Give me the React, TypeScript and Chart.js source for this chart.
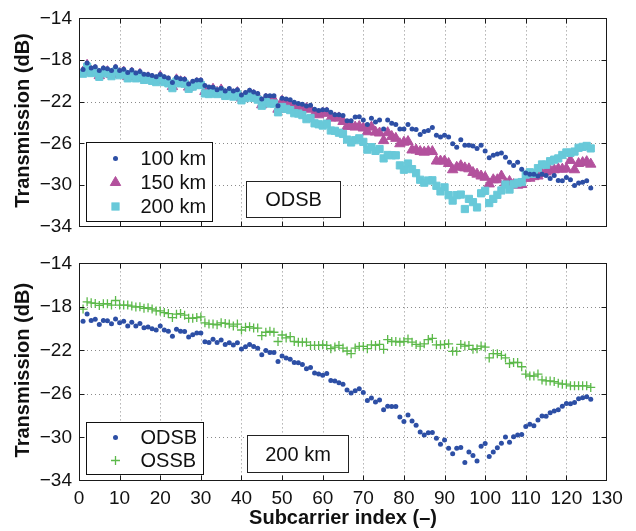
import React, { useEffect, useRef } from 'react';
import { Chart, registerables } from 'chart.js';

Chart.register(...registerables);

// ---------------- data ----------------
const subcarrierIndex: number[] = Array.from({ length: 126 }, (_, i) => i + 1);

const odsb100km = [
  -18.90, -18.28, -18.77, -18.65, -19.00, -18.77, -18.83, -19.00, -18.65, -19.00,
  -18.89, -19.19, -18.95, -19.25, -19.10, -19.37, -19.40, -19.49, -19.61, -19.40,
  -19.61, -19.73, -20.15, -19.67, -19.79, -19.85, -20.30, -20.03, -19.91, -19.91,
  -20.45, -20.58, -20.61, -20.85, -20.70, -20.97, -20.73, -20.97, -20.85, -21.36,
  -21.12, -20.91, -21.06, -21.21, -21.75, -21.42, -21.42, -21.42, -22.40, -21.66,
  -21.75, -21.81, -22.05, -22.17, -22.24, -22.42, -22.35, -22.72, -22.84, -22.78,
  -22.78, -23.02, -23.26, -23.26, -23.32, -23.83, -23.83, -23.47, -23.44, -23.77,
  -24.20, -23.59, -23.95, -23.77, -24.62, -23.77, -24.08, -24.20, -24.62, -24.62,
  -24.20, -24.62, -24.68, -25.16, -24.86, -24.77, -24.47, -25.22, -25.40, -25.22,
  -25.40, -26.04, -26.37, -25.65, -26.19, -26.19, -26.25, -26.49, -26.19, -26.73,
  -27.39, -27.15, -27.03, -26.94, -27.33, -27.82, -28.12, -27.82, -28.48, -28.84,
  -28.96, -28.96, -29.14, -28.96, -29.08, -29.38, -29.08, -29.57, -29.60, -29.29,
  -29.50, -30.05, -29.81, -29.75, -29.60, -30.29,
];

const odsb150km = [
  -19.15, -18.50, -19.10, -18.98, -19.50, -19.10, -19.12, -19.40, -18.95, -19.30,
  -19.15, -19.60, -19.25, -19.60, -19.37, -19.75, -19.70, -19.85, -19.97, -19.60,
  -19.97, -20.08, -20.55, -19.90, -20.08, -20.12, -20.60, -20.40, -20.25, -20.25,
  -21.02, -21.10, -20.80, -21.10, -20.87, -21.28, -21.12, -21.33, -21.13, -21.65,
  -21.45, -21.25, -21.40, -21.55, -22.30, -21.75, -21.85, -21.85, -22.72, -21.95,
  -22.17, -22.35, -22.48, -22.57, -22.66, -22.66, -22.72, -23.17, -23.26, -23.11,
  -23.08, -23.56, -23.56, -23.56, -23.90, -24.38, -24.32, -24.44, -24.38, -24.53,
  -24.89, -24.44, -24.92, -25.01, -25.74, -24.98, -25.34, -25.52, -26.04, -25.89,
  -25.83, -26.64, -26.64, -26.79, -26.85, -26.79, -26.79, -27.70, -27.70, -27.70,
  -27.94, -28.54, -28.30, -28.15, -28.36, -28.45, -28.80, -28.96, -29.14, -29.26,
  -29.90, -29.50, -29.50, -29.14, -29.81, -29.66, -29.96, -30.02, -29.96, -29.35,
  -29.35, -29.20, -29.14, -28.90, -28.75, -28.60, -28.54, -28.45, -28.48, -28.45,
  -27.64, -28.54, -27.94, -27.85, -27.76, -28.00,
];

const odsb200km = [
  -19.31, -18.64, -19.25, -19.13, -19.61, -19.25, -19.28, -19.55, -19.10, -19.46,
  -19.31, -19.76, -19.40, -19.76, -19.52, -19.91, -19.85, -20.00, -20.12, -19.76,
  -20.12, -20.24, -20.70, -20.06, -20.24, -20.27, -20.76, -20.55, -20.40, -20.40,
  -21.21, -21.27, -20.97, -21.27, -21.03, -21.45, -21.30, -21.51, -21.30, -21.87,
  -21.66, -21.45, -21.63, -21.80, -22.39, -22.00, -22.18, -22.18, -23.02, -22.51,
  -22.69, -22.81, -23.11, -23.14, -23.29, -23.68, -23.56, -24.08, -24.17, -24.29,
  -24.11, -24.77, -24.80, -24.98, -25.10, -25.64, -25.92, -25.70, -25.52, -25.86,
  -26.61, -26.37, -26.73, -26.55, -27.45, -27.12, -27.15, -27.15, -28.12, -28.54,
  -27.94, -28.48, -28.87, -29.50, -29.78, -29.57, -29.55, -30.08, -30.62, -30.23,
  -30.98, -31.50, -30.98, -30.92, -32.31, -31.34, -31.65, -32.16, -30.80, -30.56,
  -31.74, -31.34, -30.95, -30.53, -29.96, -30.44, -29.93, -29.78, -29.72, -29.00,
  -28.78, -28.93, -28.39, -28.03, -28.06, -27.72, -27.57, -27.45, -27.12, -26.88,
  -26.91, -26.79, -26.43, -26.34, -26.25, -26.49,
];

const ossb200km = [
  -18.20, -17.53, -17.62, -17.68, -17.86, -17.71, -17.71, -17.83, -17.41, -17.83,
  -17.83, -17.83, -17.92, -18.01, -17.98, -18.13, -18.07, -18.19, -18.37, -18.37,
  -18.52, -18.61, -18.98, -18.67, -18.61, -18.76, -19.04, -19.04, -18.98, -18.92,
  -19.46, -19.58, -19.58, -19.64, -19.46, -19.52, -19.58, -19.76, -19.58, -20.12,
  -19.88, -19.82, -19.94, -19.94, -20.64, -20.33, -20.24, -20.33, -21.18, -20.58,
  -20.85, -20.73, -21.18, -21.24, -21.24, -21.24, -21.54, -21.54, -21.54, -21.48,
  -21.54, -21.84, -21.69, -21.54, -21.78, -22.05, -22.30, -21.78, -21.63, -21.63,
  -21.84, -21.48, -21.54, -21.45, -21.90, -21.00, -21.18, -21.18, -21.24, -21.18,
  -20.94, -21.24, -21.45, -21.60, -21.39, -21.00, -20.90, -21.48, -21.48, -21.45,
  -21.39, -22.08, -22.08, -21.45, -21.60, -21.54, -21.90, -21.84, -21.60, -21.69,
  -22.69, -22.30, -22.30, -22.45, -22.69, -23.20, -23.11, -23.11, -23.50, -24.17,
  -24.35, -24.35, -24.17, -24.71, -24.80, -24.80, -24.86, -25.01, -25.10, -25.10,
  -25.25, -25.25, -25.25, -25.25, -25.25, -25.40,
];

const xTickValues = [0, 10, 20, 30, 40, 50, 60, 70, 80, 90, 100, 110, 120, 130];
const yTickValues = [-34, -30, -26, -22, -18, -14];

const topLegendLabels = ['100 km', '150 km', '200 km'];
const bottomLegendLabels = ['ODSB', 'OSSB'];
const topNote = 'ODSB';
const bottomNote = '200 km';
const yTitle = 'Transmission (dB)';
const xTitle = 'Subcarrier index (\u2013)';

// ---------------- styles ----------------
const FONT = '"Liberation Sans", Arial, Helvetica, sans-serif';
const BLUE = '#2d4fa5';
const MAGENTA = '#b3519d';
const CYAN = '#68c9d9';
const GREEN = '#5cb94a';
const TEXT = '#111';

const fmt = (v: number) => (v < 0 ? '\u2212' + Math.abs(v) : String(v));
const toPoints = (vals: number[]) => subcarrierIndex.map((x, i) => ({ x, y: vals[i] }));

type Marker = 'dot' | 'triangle' | 'square' | 'plus';

function drawMarker(ctx: CanvasRenderingContext2D, m: Marker, x: number, y: number, color: string) {
  ctx.save();
  ctx.fillStyle = color;
  ctx.strokeStyle = color;
  ctx.setLineDash([]);
  if (m === 'dot') {
    ctx.beginPath();
    ctx.arc(x, y, 2.5, 0, Math.PI * 2);
    ctx.fill();
  } else if (m === 'triangle') {
    const r = 6;
    ctx.beginPath();
    ctx.moveTo(x, y - r);
    ctx.lineTo(x + 0.866 * r, y + 0.5 * r);
    ctx.lineTo(x - 0.866 * r, y + 0.5 * r);
    ctx.closePath();
    ctx.fill();
    ctx.lineWidth = 1;
    ctx.stroke();
  } else if (m === 'square') {
    const s = 3.6;
    ctx.fillRect(x - s, y - s, 2 * s, 2 * s);
    ctx.lineWidth = 1;
    ctx.strokeRect(x - s, y - s, 2 * s, 2 * s);
  } else {
    const r = 4.5;
    ctx.lineWidth = 1.3;
    ctx.beginPath();
    ctx.moveTo(x - r, y);
    ctx.lineTo(x + r, y);
    ctx.moveTo(x, y - r);
    ctx.lineTo(x, y + r);
    ctx.stroke();
  }
  ctx.restore();
}

interface FrameCfg {
  legend: { label: string; marker: Marker; color: string }[];
  legendBox: { dx: number; dyBottom: number; w: number; h: number; rows: number[] };
  note: { text: string; dx: number; dyBottom: number; w: number; h: number };
  showXTitle: boolean;
}

function makeFrame(cfg: FrameCfg) {
  return {
    id: 'frame',
    beforeDatasetsDraw(chart: any) {
      const { ctx, chartArea: ca, scales } = chart;
      ctx.save();
      ctx.strokeStyle = '#8a8a8a';
      ctx.lineWidth = 1;
      ctx.setLineDash([1, 3]);
      xTickValues.forEach((v) => {
        if (v <= 0 || v >= 130) return;
        const x = Math.round(scales.x.getPixelForValue(v)) + 0.5;
        ctx.beginPath();
        ctx.moveTo(x, ca.top);
        ctx.lineTo(x, ca.bottom);
        ctx.stroke();
      });
      yTickValues.forEach((v) => {
        if (v <= -34 || v >= -14) return;
        const y = Math.round(scales.y.getPixelForValue(v)) + 0.5;
        ctx.beginPath();
        ctx.moveTo(ca.left, y);
        ctx.lineTo(ca.right, y);
        ctx.stroke();
      });
      ctx.restore();
    },
    afterDatasetsDraw(chart: any) {
      const { ctx, chartArea: ca, scales } = chart;
      ctx.save();
      ctx.setLineDash([]);
      ctx.strokeStyle = '#1a1a1a';
      ctx.lineWidth = 1;
      const L = Math.round(ca.left) + 0.5;
      const T = Math.round(ca.top) + 0.5;
      const R = Math.round(ca.right) - 0.5;
      const B = Math.round(ca.bottom) - 0.5;
      const tl = 5;
      ctx.beginPath();
      xTickValues.forEach((v) => {
        if (v <= 0 || v >= 130) return;
        const x = Math.round(scales.x.getPixelForValue(v)) + 0.5;
        ctx.moveTo(x, B);
        ctx.lineTo(x, B - tl);
        ctx.moveTo(x, T);
        ctx.lineTo(x, T + tl);
      });
      yTickValues.forEach((v) => {
        if (v <= -34 || v >= -14) return;
        const y = Math.round(scales.y.getPixelForValue(v)) + 0.5;
        ctx.moveTo(L, y);
        ctx.lineTo(L + tl, y);
        ctx.moveTo(R, y);
        ctx.lineTo(R - tl, y);
      });
      ctx.stroke();
      ctx.strokeRect(L, T, R - L, B - T);

      // legend box
      const lb = cfg.legendBox;
      const bx = Math.round(ca.left + lb.dx) + 0.5;
      const by = Math.round(ca.bottom - lb.dyBottom - lb.h) + 0.5;
      ctx.fillStyle = '#fff';
      ctx.fillRect(bx, by, lb.w, lb.h);
      ctx.strokeStyle = '#111';
      ctx.strokeRect(bx, by, lb.w, lb.h);
      cfg.legend.forEach((it, i) => {
        const ry = by + lb.rows[i];
        drawMarker(ctx, it.marker, bx + 29, ry, it.color);
        ctx.fillStyle = TEXT;
        ctx.font = `20px ${FONT}`;
        ctx.textAlign = 'left';
        ctx.textBaseline = 'middle';
        ctx.fillText(it.label, bx + 54, ry + 1);
      });

      // note box
      const nb = cfg.note;
      const nx = Math.round(ca.left + nb.dx) + 0.5;
      const ny = Math.round(ca.bottom - nb.dyBottom - nb.h) + 0.5;
      ctx.fillStyle = '#fff';
      ctx.fillRect(nx, ny, nb.w, nb.h);
      ctx.strokeStyle = '#222';
      ctx.strokeRect(nx, ny, nb.w, nb.h);
      ctx.fillStyle = TEXT;
      ctx.font = `20px ${FONT}`;
      ctx.textAlign = 'center';
      ctx.textBaseline = 'middle';
      ctx.fillText(nb.text, nx + nb.w / 2, ny + nb.h / 2 + 1);

      // y title
      ctx.save();
      ctx.translate(23, (ca.top + ca.bottom) / 2 - 2);
      ctx.rotate(-Math.PI / 2);
      ctx.font = `bold 20px ${FONT}`;
      ctx.fillStyle = TEXT;
      ctx.textAlign = 'center';
      ctx.textBaseline = 'middle';
      ctx.fillText(yTitle, 0, 0);
      ctx.restore();

      if (cfg.showXTitle) {
        ctx.font = `bold 20px ${FONT}`;
        ctx.fillStyle = TEXT;
        ctx.textAlign = 'center';
        ctx.textBaseline = 'middle';
        ctx.fillText(xTitle, (ca.left + ca.right) / 2, ca.bottom + 37);
      }
      ctx.restore();
    },
  };
}

function buildChart(canvas: HTMLCanvasElement, datasets: any[], showXTicks: boolean, padTop: number, xAxisH: number, frame: FrameCfg) {
  return new Chart(canvas, {
    type: 'scatter',
    data: { datasets },
    options: {
      responsive: false,
      animation: false,
      events: [],
      layout: { padding: { left: 0, right: 29, top: padTop, bottom: 0 } },
      plugins: { legend: { display: false }, tooltip: { enabled: false } },
      scales: {
        x: {
          type: 'linear',
          min: 0,
          max: 130,
          grid: { display: false, drawTicks: false },
          border: { display: false },
          afterBuildTicks: (s: any) => {
            s.ticks = xTickValues.map((v) => ({ value: v }));
          },
          afterFit: (s: any) => {
            s.height = xAxisH;
          },
          ticks: {
            display: showXTicks,
            autoSkip: false,
            maxRotation: 0,
            padding: 6,
            color: TEXT,
            font: { family: FONT, size: 19 },
            callback: (v: any) => fmt(Number(v)),
          },
        },
        y: {
          type: 'linear',
          min: -34,
          max: -14,
          grid: { display: false, drawTicks: false },
          border: { display: false },
          afterBuildTicks: (s: any) => {
            s.ticks = yTickValues.map((v) => ({ value: v }));
          },
          afterFit: (s: any) => {
            s.width = 79;
          },
          ticks: {
            autoSkip: false,
            padding: 7,
            color: TEXT,
            font: { family: FONT, size: 19 },
            callback: (v: any) => fmt(Number(v)),
          },
        },
      },
    } as any,
    plugins: [makeFrame(frame) as any],
  });
}

export default function App() {
  const topRef = useRef<HTMLCanvasElement>(null);
  const botRef = useRef<HTMLCanvasElement>(null);

  useEffect(() => {
    if (!topRef.current || !botRef.current) return;
    const top = buildChart(
      topRef.current,
      [
        { label: topLegendLabels[0], data: toPoints(odsb100km), pointStyle: 'circle', pointRadius: 2.5, pointBorderWidth: 0, pointBackgroundColor: BLUE, pointBorderColor: BLUE },
        { label: topLegendLabels[2], data: toPoints(odsb200km), pointStyle: 'rect', pointRadius: 5.1, pointBorderWidth: 1, pointBackgroundColor: CYAN, pointBorderColor: CYAN },
        { label: topLegendLabels[1], data: toPoints(odsb150km), pointStyle: 'triangle', pointRadius: 6, pointBorderWidth: 1, pointBackgroundColor: MAGENTA, pointBorderColor: MAGENTA },
      ],
      false,
      12,
      12,
      {
        legend: [
          { label: topLegendLabels[0], marker: 'dot', color: BLUE },
          { label: topLegendLabels[1], marker: 'triangle', color: MAGENTA },
          { label: topLegendLabels[2], marker: 'square', color: CYAN },
        ],
        legendBox: { dx: 7, dyBottom: 6, w: 126, h: 79, rows: [16, 40, 64] },
        note: { text: topNote, dx: 167, dyBottom: 10, w: 94, h: 36 },
        showXTitle: false,
      }
    );
    const bottom = buildChart(
      botRef.current,
      [
        { label: bottomLegendLabels[0], data: toPoints(odsb200km), pointStyle: 'circle', pointRadius: 2.5, pointBorderWidth: 0, pointBackgroundColor: BLUE, pointBorderColor: BLUE },
        { label: bottomLegendLabels[1], data: toPoints(ossb200km), pointStyle: 'cross', pointRadius: 4.5, pointBorderWidth: 1.3, pointBackgroundColor: GREEN, pointBorderColor: GREEN },
      ],
      true,
      15,
      50,
      {
        legend: [
          { label: bottomLegendLabels[0], marker: 'dot', color: BLUE },
          { label: bottomLegendLabels[1], marker: 'plus', color: GREEN },
        ],
        legendBox: { dx: 7, dyBottom: 7, w: 117, h: 52, rows: [15, 38] },
        note: { text: bottomNote, dx: 168, dyBottom: 9, w: 101, h: 37 },
        showXTitle: true,
      }
    );
    return () => {
      top.destroy();
      bottom.destroy();
    };
  }, []);

  return (
    <div style={{ position: 'fixed', left: 0, top: 0, width: 636, height: 531, background: '#fff' }}>
      <canvas ref={topRef} width={636} height={245} style={{ position: 'absolute', left: 0, top: 0, display: 'block' }} />
      <canvas ref={botRef} width={636} height={286} style={{ position: 'absolute', left: 0, top: 245, display: 'block' }} />
    </div>
  );
}
